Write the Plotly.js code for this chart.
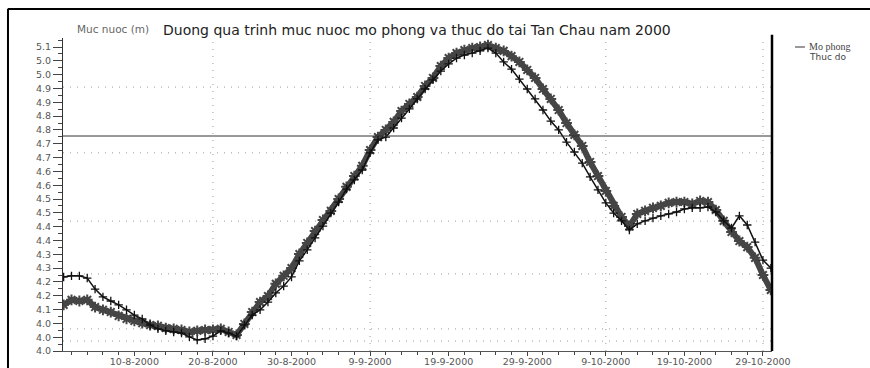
<!DOCTYPE html>
<html>
<head>
<meta charset="utf-8">
<script src="https://cdn.plot.ly/plotly-3.0.1.min.js"></script>
<style>html,body{margin:0;padding:0;background:#fff;}#chart{width:870px;height:368px;}</style>
</head>
<body>
<div id="chart"></div>
<script>
// ---- data ----
const dates = [
 "2000-08-01","2000-08-02","2000-08-03","2000-08-04","2000-08-05","2000-08-06","2000-08-07","2000-08-08","2000-08-09","2000-08-10",
 "2000-08-11","2000-08-12","2000-08-13","2000-08-14","2000-08-15","2000-08-16","2000-08-17","2000-08-18","2000-08-19","2000-08-20",
 "2000-08-21","2000-08-22","2000-08-23","2000-08-24","2000-08-25","2000-08-26","2000-08-27","2000-08-28","2000-08-29","2000-08-30",
 "2000-08-31","2000-09-01","2000-09-02","2000-09-03","2000-09-04","2000-09-05","2000-09-06","2000-09-07","2000-09-08","2000-09-09",
 "2000-09-10","2000-09-11","2000-09-12","2000-09-13","2000-09-14","2000-09-15","2000-09-16","2000-09-17","2000-09-18","2000-09-19",
 "2000-09-20","2000-09-21","2000-09-22","2000-09-23","2000-09-24","2000-09-25","2000-09-26","2000-09-27","2000-09-28","2000-09-29",
 "2000-09-30","2000-10-01","2000-10-02","2000-10-03","2000-10-04","2000-10-05","2000-10-06","2000-10-07","2000-10-08","2000-10-09",
 "2000-10-10","2000-10-11","2000-10-12","2000-10-13","2000-10-14","2000-10-15","2000-10-16","2000-10-17","2000-10-18","2000-10-19",
 "2000-10-20","2000-10-21","2000-10-22","2000-10-23","2000-10-24","2000-10-25","2000-10-26","2000-10-27","2000-10-28","2000-10-29",
 "2000-10-30"
];
const thucDo = [
 4.167,4.185,4.181,4.185,4.159,4.149,4.141,4.127,4.116,4.109,
 4.101,4.094,4.091,4.083,4.080,4.076,4.069,4.073,4.076,4.076,
 4.080,4.069,4.058,4.098,4.141,4.177,4.199,4.243,4.272,4.300,
 4.351,4.391,4.434,4.474,4.507,4.550,4.594,4.633,4.670,4.727,
 4.774,4.800,4.829,4.868,4.894,4.919,4.959,4.988,5.031,5.060,
 5.078,5.089,5.096,5.100,5.107,5.096,5.086,5.067,5.046,5.017,
 4.988,4.948,4.912,4.872,4.825,4.782,4.742,4.684,4.633,4.579,
 4.525,4.485,4.452,4.496,4.507,4.518,4.525,4.536,4.539,4.539,
 4.532,4.543,4.539,4.510,4.471,4.431,4.398,4.376,4.337,4.275,
 4.221
];
const moPhong = [
 4.268,4.272,4.272,4.264,4.224,4.196,4.181,4.167,4.149,4.130,
 4.116,4.094,4.080,4.073,4.069,4.065,4.051,4.040,4.044,4.054,
 4.073,4.065,4.054,4.094,4.130,4.149,4.177,4.210,4.235,4.268,
 4.326,4.366,4.409,4.452,4.499,4.539,4.586,4.619,4.655,4.717,
 4.764,4.774,4.807,4.843,4.876,4.912,4.948,4.981,5.013,5.039,
 5.060,5.071,5.078,5.086,5.096,5.078,5.046,5.020,4.984,4.948,
 4.912,4.872,4.832,4.800,4.756,4.720,4.680,4.630,4.583,4.536,
 4.499,4.471,4.438,4.460,4.471,4.481,4.489,4.496,4.503,4.514,
 4.518,4.518,4.521,4.503,4.471,4.445,4.489,4.456,4.394,4.329,
 4.300
];
const yTickVals = [5.10,5.05,5.00,4.95,4.90,4.85,4.80,4.75,4.70,4.65,4.60,4.55,4.50,4.45,4.40,4.35,4.30,4.25,4.20,4.15,4.10,4.05,4.00];
const yTickText = ["5.1","5.0","5.0","4.9","4.9","4.8","4.8","4.7","4.7","4.6","4.6","4.5","4.5","4.4","4.4","4.3","4.3","4.2","4.2","4.1","4.0","4.0","4.0"];
const seriesNames = ["Mo phong","Thuc do"];
const titleText = "Duong qua trinh muc nuoc mo phong va thuc do tai Tan Chau nam 2000";
const yAxisText = "Muc nuoc (m)";
const refLevel = 4.778;
const hGrid = [4.955,4.717,4.470,4.279,4.080,4.036];
const vGrid = ["2000-08-20","2000-09-09","2000-10-09","2000-10-29"];

// ---- chart ----
const traces = [
 {x: dates, y: thucDo, name: seriesNames[1], type: "scatter", mode: "lines+markers",
  line: {color: "#454545", width: 6},
  marker: {symbol: "asterisk-open", size: 9, color: "#454545", line: {color: "#454545", width: 2}},
  showlegend: false},
 {x: dates, y: moPhong, name: seriesNames[0], type: "scatter", mode: "lines+markers",
  line: {color: "#111", width: 1.5},
  marker: {symbol: "cross-thin-open", size: 6, color: "#111", line: {color: "#111", width: 1.3}},
  showlegend: false}
];

const gridLine = {color: "#9a9a9a", width: 1, dash: "1px,6px"};
const shapes = [];
hGrid.forEach(v => shapes.push({type: "line", xref: "paper", yref: "y", x0: 0, x1: 1, y0: v, y1: v,
  line: gridLine, layer: "below"}));
vGrid.forEach(d => shapes.push({type: "line", xref: "x", yref: "paper", x0: d, x1: d, y0: 0, y1: 1,
  line: gridLine, layer: "below"}));
shapes.push({type: "line", xref: "paper", yref: "y", x0: 0, x1: 1, y0: refLevel, y1: refLevel,
  line: {color: "#333", width: 1}});
// right border of the plot
shapes.push({type: "line", xref: "paper", yref: "paper", x0: 1, x1: 1, y0: 0, y1: 1.01,
  line: {color: "#000", width: 2.5}});
// outer frame (top and left)
shapes.push({type: "line", xref: "paper", yref: "paper", x0: -0.078, x1: 1.2, y0: 1.0927, y1: 1.0927,
  line: {color: "#000", width: 2}});
shapes.push({type: "line", xref: "paper", yref: "paper", x0: -0.0776, x1: -0.0776, y0: -0.06, y1: 1.0927,
  line: {color: "#000", width: 2}});
// legend line sample
shapes.push({type: "line", xref: "paper", yref: "paper", x0: 1.0325, x1: 1.0465, y0: 0.9712, y1: 0.9712,
  line: {color: "#333", width: 1}});

const annotations = [
 {text: yAxisText, xref: "paper", yref: "paper", x: (75-63)/709, y: (351-29)/313, xanchor: "left", yanchor: "middle",
  showarrow: false, font: {family: "DejaVu Sans", size: 10.5, color: "#666"}},
 {text: seriesNames[0], xref: "paper", yref: "paper", x: (807-63)/709, y: (351-46)/313, xanchor: "left", yanchor: "middle",
  showarrow: false, font: {family: "Liberation Serif", size: 10, color: "#444"}},
 {text: seriesNames[1], xref: "paper", yref: "paper", x: (807-63)/709, y: (351-57)/313, xanchor: "left", yanchor: "middle",
  showarrow: false, font: {family: "DejaVu Sans", size: 9, color: "#444"}}
];

const layout = {
 width: 870, height: 368,
 margin: {l: 63, r: 98, t: 38, b: 17, pad: 0},
 paper_bgcolor: "#fff", plot_bgcolor: "#fff",
 title: {text: titleText, xref: "container", yref: "container", x: 163/870, xanchor: "left",
   y: 1 - 30/368, yanchor: "middle", font: {family: "DejaVu Sans", size: 14, color: "#222"}},
 showlegend: false,
 xaxis: {type: "date", range: ["2000-07-31 22:00", "2000-10-30 03:36"],
   tickmode: "linear", tick0: "2000-08-10", dtick: 864000000, tickformat: "%-d-%-m-%Y",
   ticks: "outside", ticklen: 4, tickcolor: "#444", showgrid: false, zeroline: false,
   showline: true, linecolor: "#555", linewidth: 1, ticklabelstandoff: -2,
   tickfont: {family: "DejaVu Sans", size: 9.5, color: "#555"},
   minor: {tickmode: "linear", tick0: "2000-08-10", dtick: 172800000, ticks: "outside", ticklen: 3, tickcolor: "#444", showgrid: false}},
 yaxis: {range: [4.0, 5.1326], tickmode: "array", tickvals: yTickVals, ticktext: yTickText,
   ticks: "outside", ticklen: 9, tickcolor: "#444", showgrid: false, zeroline: false,
   showline: true, linecolor: "#333", linewidth: 1,
   tickfont: {family: "DejaVu Sans", size: 9.5, color: "#555"},
   minor: {tickmode: "linear", tick0: 4.0, dtick: 0.025, ticks: "outside", ticklen: 4, tickcolor: "#444", showgrid: false}},
 shapes: shapes,
 annotations: annotations
};

Plotly.newPlot("chart", traces, layout, {displayModeBar: false, staticPlot: true});
</script>
</body>
</html>
